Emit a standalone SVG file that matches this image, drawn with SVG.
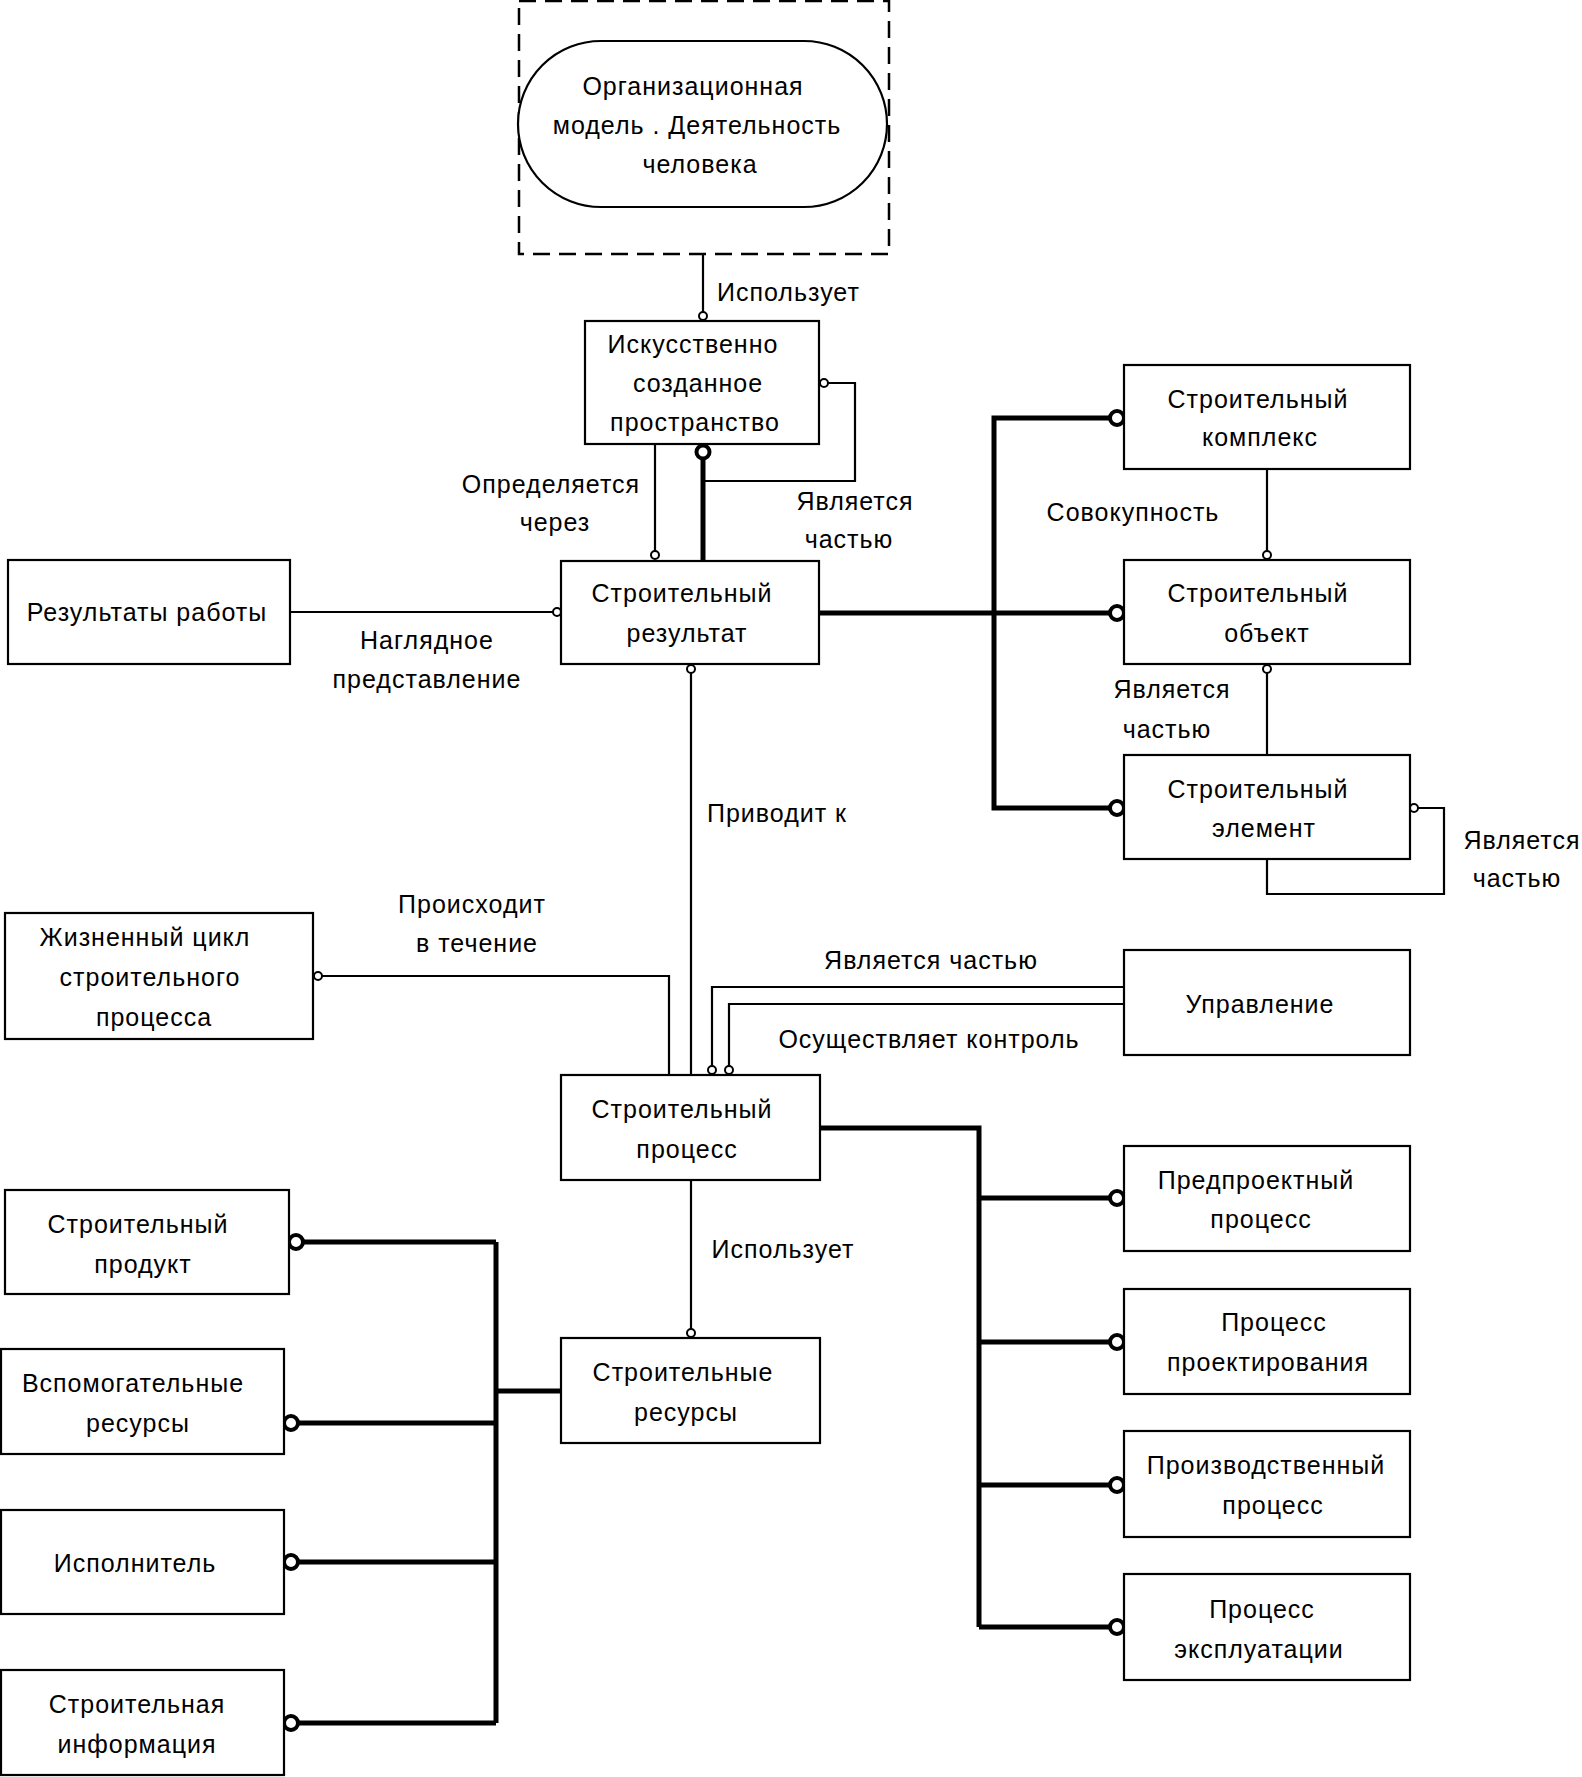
<svg xmlns="http://www.w3.org/2000/svg" width="1582" height="1777" viewBox="0 0 1582 1777">
<style>
text{font-family:"Liberation Sans",Arial,sans-serif;font-size:25px;letter-spacing:1px;fill:#000}
.c{text-anchor:middle}
.box{fill:#fff;stroke:#000;stroke-width:2.2}
.thin{fill:none;stroke:#000;stroke-width:2.2}
.thick{fill:none;stroke:#000;stroke-width:5}
.sc{fill:#fff;stroke:#000;stroke-width:2}
.bc{fill:#fff;stroke:#000;stroke-width:4}
</style>
<rect width="1582" height="1777" fill="#fff"/>
<g id="connectors">
  <path class="thin" d="M703,254 V312"/>
  <path class="thin" d="M828,383 H855 V481 H703"/>
  <path class="thick" d="M703,459 V561"/>
  <path class="thin" d="M655,444 V551"/>
  <path class="thin" d="M290,612 H553"/>
  <path class="thick" d="M819,613 H1110"/>
  <path class="thick" d="M1110,418 H994 V808 H1110"/>
  <path class="thin" d="M1267,469 V551"/>
  <path class="thin" d="M1267,673 V755"/>
  <path class="thin" d="M1418,808 H1444 V894 H1267 V859"/>
  <path class="thin" d="M691,673 V1075"/>
  <path class="thin" d="M322,976 H669 V1075"/>
  <path class="thin" d="M1124,987 H712 V1066"/>
  <path class="thin" d="M1124,1004 H729 V1066"/>
  <path class="thick" d="M820,1128 H979 V1627"/>
  <path class="thick" d="M979,1198 H1110 M979,1342 H1110 M979,1485 H1110 M979,1627 H1110"/>
  <path class="thin" d="M691,1180 V1329"/>
  <path class="thick" d="M496,1242 V1723 M496,1391 H561"/>
  <path class="thick" d="M303,1242 H496 M298,1423 H496 M298,1562 H496 M298,1723 H496"/>
  <circle class="sc" cx="703" cy="316" r="4"/>
  <circle class="sc" cx="824" cy="383" r="4"/>
  <circle class="bc" cx="703" cy="452" r="6.5"/>
  <circle class="sc" cx="655" cy="555" r="4"/>
  <circle class="sc" cx="557" cy="612" r="4"/>
  <circle class="bc" cx="1117" cy="418" r="7"/>
  <circle class="bc" cx="1117" cy="613" r="7"/>
  <circle class="bc" cx="1117" cy="808" r="7"/>
  <circle class="sc" cx="1267" cy="555" r="4"/>
  <circle class="sc" cx="1267" cy="669" r="4"/>
  <circle class="sc" cx="1414" cy="808" r="4"/>
  <circle class="sc" cx="691" cy="669" r="4"/>
  <circle class="sc" cx="318" cy="976" r="4"/>
  <circle class="sc" cx="712" cy="1070" r="4"/>
  <circle class="sc" cx="729" cy="1070" r="4"/>
  <circle class="bc" cx="1117" cy="1198" r="7"/>
  <circle class="bc" cx="1117" cy="1342" r="7"/>
  <circle class="bc" cx="1117" cy="1485" r="7"/>
  <circle class="bc" cx="1117" cy="1627" r="7"/>
  <circle class="sc" cx="691" cy="1333" r="4"/>
  <circle class="bc" cx="296" cy="1242" r="7"/>
  <circle class="bc" cx="291" cy="1423" r="7"/>
  <circle class="bc" cx="291" cy="1562" r="7"/>
  <circle class="bc" cx="291" cy="1723" r="7"/>
</g>
<g id="labels">
  <text x="717" y="301">Использует</text>
  <text class="c" x="551" y="493">Определяется</text>
  <text class="c" x="555" y="531">через</text>
  <text class="c" x="855" y="510">Является</text>
  <text class="c" x="849" y="548">частью</text>
  <text class="c" x="427" y="649">Наглядное</text>
  <text class="c" x="427" y="688">представление</text>
  <text class="c" x="1133" y="521">Совокупность</text>
  <text class="c" x="1172" y="698">Является</text>
  <text class="c" x="1167" y="738">частью</text>
  <text class="c" x="777" y="822">Приводит к</text>
  <text class="c" x="1522" y="849">Является</text>
  <text class="c" x="1517" y="887">частью</text>
  <text class="c" x="472" y="913">Происходит</text>
  <text class="c" x="477" y="952">в течение</text>
  <text class="c" x="931" y="969">Является частью</text>
  <text class="c" x="929" y="1048">Осуществляет контроль</text>
  <text class="c" x="783" y="1258">Использует</text>
</g>
<g id="org-model">
  <rect x="519" y="1" width="370" height="253" fill="none" stroke="#000" stroke-width="2.5" stroke-dasharray="17,9"/>
  <rect class="box" x="518" y="41" width="369" height="166" rx="83"/>
  <text class="c" x="693" y="95">Организационная</text>
  <text class="c" x="697" y="134">модель . Деятельность</text>
  <text class="c" x="700" y="173">человека</text>
</g>
<g id="artificial-space">
  <rect class="box" x="585" y="321" width="234" height="123"/>
  <text class="c" x="693" y="353">Искусственно</text>
  <text class="c" x="698" y="392">созданное</text>
  <text class="c" x="695" y="431">пространство</text>
</g>
<g id="build-result">
  <rect class="box" x="561" y="561" width="258" height="103"/>
  <text class="c" x="682" y="602">Строительный</text>
  <text class="c" x="687" y="642">результат</text>
</g>
<g id="work-results">
  <rect class="box" x="8" y="560" width="282" height="104"/>
  <text class="c" x="147" y="621">Результаты работы</text>
</g>
<g id="complex">
  <rect class="box" x="1124" y="365" width="286" height="104"/>
  <text class="c" x="1258" y="408">Строительный</text>
  <text class="c" x="1260" y="446">комплекс</text>
</g>
<g id="object">
  <rect class="box" x="1124" y="560" width="286" height="104"/>
  <text class="c" x="1258" y="602">Строительный</text>
  <text class="c" x="1267" y="642">объект</text>
</g>
<g id="element">
  <rect class="box" x="1124" y="755" width="286" height="104"/>
  <text class="c" x="1258" y="798">Строительный</text>
  <text class="c" x="1264" y="837">элемент</text>
</g>
<g id="life-cycle">
  <rect class="box" x="5" y="913" width="308" height="126"/>
  <text class="c" x="145" y="946">Жизненный цикл</text>
  <text class="c" x="150" y="986">строительного</text>
  <text class="c" x="154" y="1026">процесса</text>
</g>
<g id="management">
  <rect class="box" x="1124" y="950" width="286" height="105"/>
  <text class="c" x="1260" y="1013">Управление</text>
</g>
<g id="build-process">
  <rect class="box" x="561" y="1075" width="259" height="105"/>
  <text class="c" x="682" y="1118">Строительный</text>
  <text class="c" x="687" y="1158">процесс</text>
</g>
<g id="build-resources">
  <rect class="box" x="561" y="1338" width="259" height="105"/>
  <text class="c" x="683" y="1381">Строительные</text>
  <text class="c" x="686" y="1421">ресурсы</text>
</g>
<g id="pre-design">
  <rect class="box" x="1124" y="1146" width="286" height="105"/>
  <text class="c" x="1256" y="1189">Предпроектный</text>
  <text class="c" x="1261" y="1228">процесс</text>
</g>
<g id="design">
  <rect class="box" x="1124" y="1289" width="286" height="105"/>
  <text class="c" x="1274" y="1331">Процесс</text>
  <text class="c" x="1268" y="1371">проектирования</text>
</g>
<g id="production">
  <rect class="box" x="1124" y="1431" width="286" height="106"/>
  <text class="c" x="1266" y="1474">Производственный</text>
  <text class="c" x="1273" y="1514">процесс</text>
</g>
<g id="operation">
  <rect class="box" x="1124" y="1574" width="286" height="106"/>
  <text class="c" x="1262" y="1618">Процесс</text>
  <text class="c" x="1259" y="1658">эксплуатации</text>
</g>
<g id="product">
  <rect class="box" x="5" y="1190" width="284" height="104"/>
  <text class="c" x="138" y="1233">Строительный</text>
  <text class="c" x="143" y="1273">продукт</text>
</g>
<g id="aux-resources">
  <rect class="box" x="1" y="1349" width="283" height="105"/>
  <text class="c" x="133" y="1392">Вспомогательные</text>
  <text class="c" x="138" y="1432">ресурсы</text>
</g>
<g id="executor">
  <rect class="box" x="1" y="1510" width="283" height="104"/>
  <text class="c" x="135" y="1572">Исполнитель</text>
</g>
<g id="information">
  <rect class="box" x="1" y="1670" width="283" height="105"/>
  <text class="c" x="137" y="1713">Строительная</text>
  <text class="c" x="137" y="1753">информация</text>
</g>
</svg>
